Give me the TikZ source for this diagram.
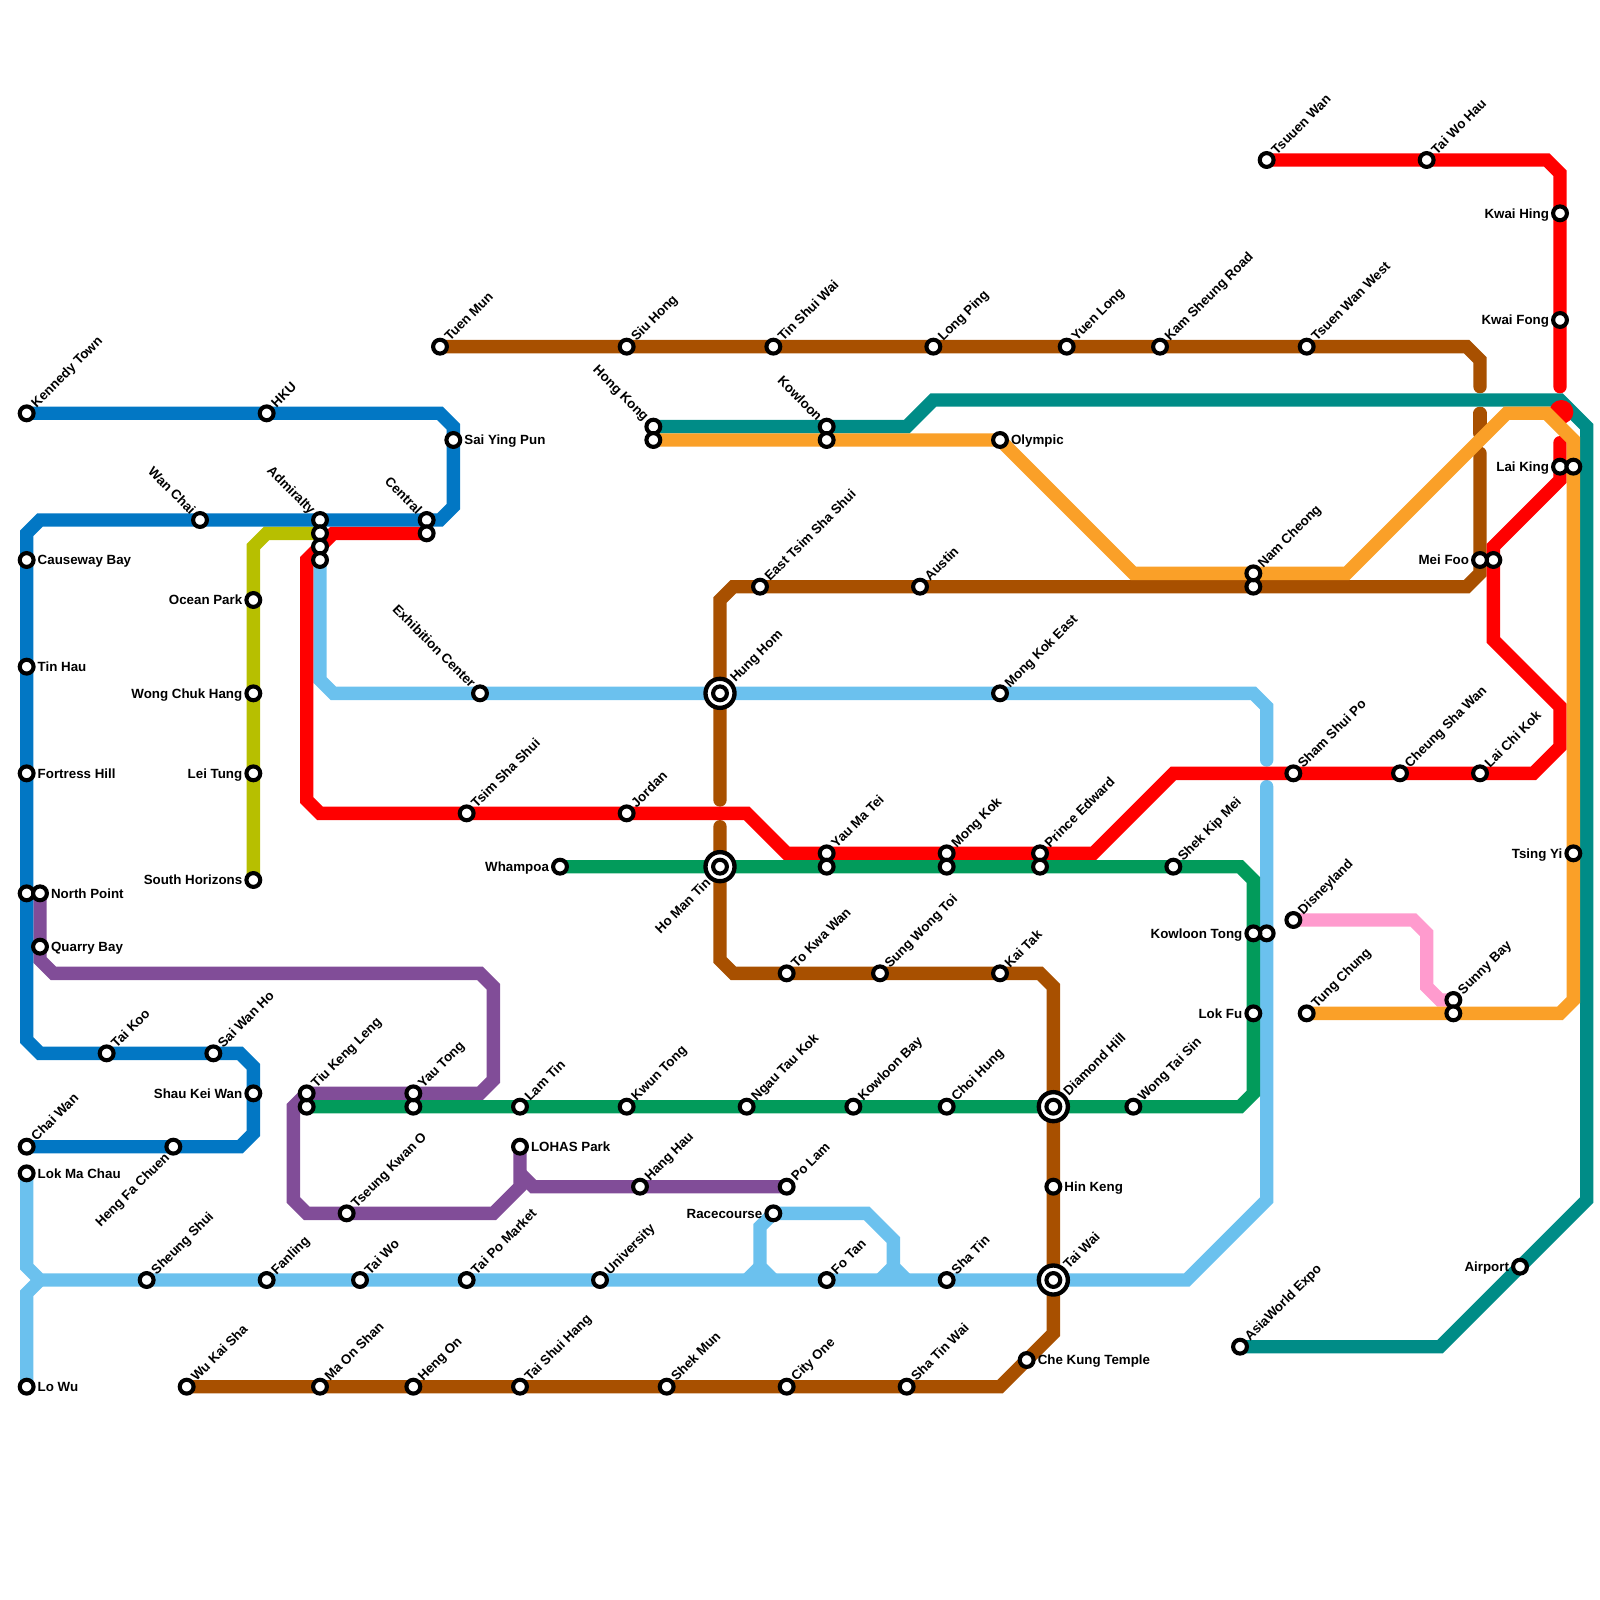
\documentclass[tikz,border=0pt]{standalone}
\usepackage{fontspec}
\setmainfont{Liberation Sans}
\usetikzlibrary{backgrounds}
\definecolor{islandcol}{HTML}{0277C4}
\definecolor{southcol}{HTML}{B7BF00}
\definecolor{tsuencol}{HTML}{FF0000}
\definecolor{tuenmacol}{HTML}{A85000}
\definecolor{eastcol}{HTML}{6BC1EE}
\definecolor{kwuncol}{HTML}{029B5B}
\definecolor{tseungcol}{HTML}{814D98}
\definecolor{airportcol}{HTML}{008C87}
\definecolor{tungcol}{HTML}{FAA028}
\definecolor{disneycol}{HTML}{FF9BCE}

\begin{document}
\begin{tikzpicture}[
  x=0.2cm,
  y=-0.2cm,
  metro/.style={line width=0.2cm},
  gapend/.style={line cap=round},
  station/.style={circle, draw=black, fill=white, line width=1.75pt, inner sep=0pt, minimum size=5.9pt},
  interchange/.style={circle, draw=black, fill=white, line width=1.85pt, inner sep=0pt, minimum size=12.4pt},
  every label/.style={inner sep=0pt, text height=4.1pt, text depth=0pt, font=\fontsize{5.69}{6}\selectfont\bfseries},
  label distance=0.7pt,
  tagne/.style={label={[rotate=45, anchor=west]45:#1}},
  tagnw/.style={label={[rotate=-45, anchor=east]135:#1}},
  tagsw/.style={label={[rotate=45, anchor=east]225:#1}},
  tagr/.style={label={[anchor=west]0:#1}},
  tagl/.style={label={[anchor=east]180:#1}}
]
\useasboundingbox (0,0) rectangle (120,120);

% Stations of the island line
\node[station, tagne=Kennedy Town] (kennedytown) at (2,31) {};
\node[station, tagne=HKU] (hku) at (20,31) {};
\node[station, tagr=Sai Ying Pun] (saiyingpun) at (34,33) {};
\node[station, tagnw=Central] (centrala) at (32,39) {};
\node[station, tagnw=Admiralty] (admiraltya) at (24,39) {};
\node[station, tagnw=Wan Chai] (wanchai) at (15,39) {};
\node[station, tagr=Causeway Bay] (causewaybay) at (2,42) {};
\node[station, tagr=Tin Hau] (tinhau) at (2,50) {};
\node[station, tagr=Fortress Hill] (fortresshill) at (2,58) {};
\node[station] (northpointa) at (2,67) {};
\node[station, tagne=Tai Koo] (taikoo) at (8,79) {};
\node[station, tagne=Sai Wan Ho] (saiwanho) at (16,79) {};
\node[station, tagl=Shau Kei Wan] (shaukeiwan) at (19,82) {};
\node[station, tagsw=Heng Fa Chuen] (hengfachuen) at (13,86) {};
\node[station, tagne=Chai Wan] (chaiwan) at (2,86) {};

% Stations of the south island line
\node[station] (admiraltyb) at (24,40) {};
\node[station, tagl=Ocean Park] (oceanpark) at (19,45) {};
\node[station, tagl=Wong Chuk Hang] (wongchukhang) at (19,52) {};
\node[station, tagl=Lei Tung] (leitung) at (19,58) {};
\node[station, tagl=South Horizons] (southhorizons) at (19,66) {};

% Stations of the red lines
\node[station] (centralb) at (32,40) {};
\node[station] (admiraltyc) at (24,41) {};
\node[station, tagne=Tsim Sha Shui] (tsimshatsui) at (35,61) {};
\node[station, tagne=Jordan] (jordan) at (47,61) {};
\node[station, tagne=Yau Ma Tei] (yaumateia) at (62,64) {};
\node[station, tagne=Mong Kok] (mongkoka) at (71,64) {};
\node[station, tagne=Prince Edward] (princeedwarda) at (78,64) {};
\node[station, tagne=Sham Shui Po] (shamshuipo) at (97,58) {};
\node[station, tagne=Cheung Sha Wan] (cheungshawan) at (105,58) {};
\node[station, tagne=Lai Chi Kok] (laichikok) at (111,58) {};
\node[station] (meifooa) at (112,42) {};
\node[station, tagl=Lai King] (laikinga) at (117,35) {};
\node[station, tagne=Tsuuen Wan] (tsuenwan) at (95,12) {};
\node[station, tagne=Tai Wo Hau] (taiwohau) at (107,12) {};
\node[station, tagl=Kwai Hing] (kwaihing) at (117,16) {};
\node[station, tagl=Kwai Fong] (kwaifong) at (117,24) {};

% Stations of the brown line
\node[station, tagne=Tuen Mun] (tuenmun) at (33,26) {};
\node[station, tagne=Siu Hong] (siuhong) at (47,26) {};
\node[station, tagne=Tin Shui Wai] (tinshuiwai) at (58,26) {};
\node[station, tagne=Long Ping] (longping) at (70,26) {};
\node[station, tagne=Yuen Long] (yuenlong) at (80,26) {};
\node[station, tagne=Kam Sheung Road] (kamsheung) at (87,26) {};
\node[station, tagne=Tsuen Wan West] (tsuenwanwest) at (98,26) {};
\node[station, tagl=Mei Foo] (meifoob) at (111,42) {};
\node[station] (namcheongb) at (94,44) {};
\node[station, tagne=Austin] (austin) at (69,44) {};
\node[station, tagne=East Tsim Sha Shui] (easttsimshashui) at (57,44) {};
\node[interchange, tagne=Hung Hom] (hunghom) at (54,52) {};
\node[station] (hunghomin) at (hunghom) {};
\node[interchange, tagsw=Ho Man Tin] (homantin) at (54,65) {};
\node[station] (homantinin) at (homantin) {};
\node[station, tagne=To Kwa Wan] (tokwawan) at (59,73) {};
\node[station, tagne=Sung Wong Toi] (sungwongtoi) at (66,73) {};
\node[station, tagne=Kai Tak] (kaitak) at (75,73) {};
\node[interchange, tagne=Diamond Hill] (diamondhill) at (79,83) {};
\node[station] (diamondhillin) at (diamondhill) {};
\node[station, tagr=Hin Keng] (hinkeng) at (79,89) {};
\node[interchange, tagne=Tai Wai] (taiwai) at (79,96) {};
\node[station] (taiwaiin) at (taiwai) {};
\node[station, tagr=Che Kung Temple] (chekung) at (77,102) {};
\node[station, tagne=Sha Tin Wai] (shatinwai) at (68,104) {};
\node[station, tagne=City One] (cityone) at (59,104) {};
\node[station, tagne=Shek Mun] (shekmun) at (50,104) {};
\node[station, tagne=Tai Shui Hang] (taishuihang) at (39,104) {};
\node[station, tagne=Heng On] (hengon) at (31,104) {};
\node[station, tagne=Ma On Shan] (maonshan) at (24,104) {};
\node[station, tagne=Wu Kai Sha] (wukaisha) at (14,104) {};

% Stations of the light blue line
\node[station] (admiraltyd) at (24,42) {};
\node[station, tagnw=Exhibition Center] (exhibition) at (36,52) {};
\node[station, tagne=Mong Kok East] (mongkokeast) at (75,52) {};
\node[station] (kowloontongb) at (95,70) {};
\node[station, tagne=Sha Tin] (shatin) at (71,96) {};
\node[station, tagne=Fo Tan] (fotan) at (62,96) {};
\node[station, tagl=Racecourse] (racecourse) at (58,91) {};
\node[station, tagne=University] (university) at (45,96) {};
\node[station, tagne=Tai Po Market] (taipomarket) at (35,96) {};
\node[station, tagne=Tai Wo] (taiwo) at (27,96) {};
\node[station, tagne=Fanling] (fanling) at (20,96) {};
\node[station, tagne=Sheung Shui] (sheungshui) at (11,96) {};
\node[station, tagr=Lok Ma Chau] (lokmachau) at (2,88) {};
\node[station, tagr=Lo Wu] (lowu) at (2,104) {};

% Stations of the green line
\node[station, tagl=Whampoa] (whampoa) at (42,65) {};
\node[station] (yaumateib) at (62,65) {};
\node[station] (mongkokb) at (71,65) {};
\node[station] (princeedwardb) at (78,65) {};
\node[station, tagne=Shek Kip Mei] (shekkipmei) at (88,65) {};
\node[station, tagl=Kowloon Tong] (kowloontonga) at (94,70) {};
\node[station, tagl=Lok Fu] (lokfu) at (94,76) {};
\node[station, tagne=Wong Tai Sin] (wongtaisin) at (85,83) {};
\node[station, tagne=Choi Hung] (choihung) at (71,83) {};
\node[station, tagne=Kowloon Bay] (kowloonbay) at (64,83) {};
\node[station, tagne=Ngau Tau Kok] (ngautaukok) at (56,83) {};
\node[station, tagne=Kwun Tong] (kwuntong) at (47,83) {};
\node[station, tagne=Lam Tin] (lamtin) at (39,83) {};
\node[station] (yautongb) at (31,83) {};
\node[station] (tiukengb) at (23,83) {};

% Stations of the purple line
\node[station, tagr=North Point] (northpointb) at (3,67) {};
\node[station, tagr=Quarry Bay] (quarrybay) at (3,71) {};
\node[station, tagne=Yau Tong] (yautonga) at (31,82) {};
\node[station, tagne=Tiu Keng Leng] (tiukenga) at (23,82) {};
\node[station, tagne=Tseung Kwan O] (tseungkwano) at (26,91) {};
\node[station, tagr=LOHAS Park] (lohaspark) at (39,86) {};
\node[station, tagne=Hang Hau] (hanghau) at (48,89) {};
\node[station, tagne=Po Lam] (polam) at (59,89) {};

% Stations of the airport and orange lines
\node[station, tagnw=Hong Kong] (hongkonga) at (49,32) {};
\node[station] (hongkongb) at (49,33) {};
\node[station, tagnw=Kowloon] (kowloona) at (62,32) {};
\node[station] (kowloonb) at (62,33) {};
\node[station, tagr=Olympic] (olympic) at (75,33) {};
\node[station, tagne=Nam Cheong] (namcheonga) at (94,43) {};
\node[station] (laikingb) at (118,35) {};
\node[station, tagl=Tsing Yi] (tsingyi) at (118,64) {};
\node[station, tagne=Sunny Bay] (sunnybaya) at (109,75) {};
\node[station] (sunnybayb) at (109,76) {};
\node[station, tagne=Tung Chung] (tungchung) at (98,76) {};
\node[station, tagl=Airport] (airport) at (114,95) {};
\node[station, tagne=AsiaWorld Expo] (asiaworld) at (93,101) {};
\node[station, tagne=Disneyland] (disneyland) at (97,69) {};

\begin{scope}[on background layer]
% Light blue line
\draw[metro, eastcol, gapend] (admiraltyd.center) -- (24,51) -- (25,52) -- (exhibition.center) -- (hunghom.center) -- (mongkokeast.center) -- (94,52) -- (95,53) -- (95,57);
\draw[metro, eastcol, gapend] (95,59) -- (kowloontongb.center) -- (95,90) -- (89,96) -- (taiwai.center) -- (shatin.center) -- (fotan.center) -- (university.center) -- (taipomarket.center) -- (taiwo.center) -- (fanling.center) -- (sheungshui.center) -- (3,96) -- (2,95) -- (lokmachau.center);
\draw[metro, eastcol] (3,96) -- (2,97) -- (lowu.center);
\draw[metro, eastcol] (58,96) -- (57,95) -- (57,92) -- (racecourse.center) -- (65,91) -- (67,93) -- (67,95) -- (66,96);
\draw[metro, eastcol] (56,96) -- (57,95);
\draw[metro, eastcol] (67,95) -- (68,96);

% Purple line
\draw[metro, tseungcol] (northpointb.center) -- (quarrybay.center) -- (3,72) -- (4,73) -- (36,73) -- (37,74) -- (37,81) -- (36,82) -- (yautonga.center) -- (tiukenga.center) -- (22,83) -- (22,90) -- (23,91) -- (tseungkwano.center) -- (37,91) -- (39,89) -- (lohaspark.center);
\draw[metro, tseungcol] (39,88) -- (40,89) -- (hanghau.center) -- (polam.center);

% South island and pink lines
\draw[metro, southcol] (admiraltyb.center) -- (20,40) -- (19,41) -- (oceanpark.center) -- (wongchukhang.center) -- (leitung.center) -- (southhorizons.center);
\draw[metro, disneycol] (disneyland.center) -- (106,69) -- (107,70) -- (107,74) -- (108,75) -- (sunnybaya.center);

% Brown line
\draw[metro, tuenmacol, gapend] (tuenmun.center) -- (siuhong.center) -- (tinshuiwai.center) -- (longping.center) -- (yuenlong.center) -- (kamsheung.center) -- (tsuenwanwest.center) -- (110,26) -- (111,27) -- (111,29);
\draw[metro, tuenmacol, gapend] (111,31) -- (111,32.5);
\draw[metro, tuenmacol, gapend] (111,34) -- (meifoob.center) -- (111,43) -- (110,44) -- (namcheongb.center) -- (austin.center) -- (easttsimshashui.center) -- (55,44) -- (54,45) -- (hunghom.center) -- (54,60);
\draw[metro, tuenmacol, gapend] (54,62) -- (homantin.center) -- (54,72) -- (55,73) -- (tokwawan.center) -- (sungwongtoi.center) -- (kaitak.center) -- (78,73) -- (79,74) -- (diamondhill.center) -- (hinkeng.center) -- (taiwai.center) -- (79,100) -- (chekung.center) -- (75,104) -- (shatinwai.center) -- (cityone.center) -- (shekmun.center) -- (taishuihang.center) -- (hengon.center) -- (maonshan.center) -- (wukaisha.center);

% Airport line
\draw[metro, airportcol] (hongkonga.center) -- (kowloona.center) -- (68,32) -- (70,30) -- (117,30) -- (119,32) -- (119,90) -- (airport.center) -- (108,101) -- (asiaworld.center);

% Red lines
\fill[tsuencol] (117.1,30.9) circle (0.9);
\draw[metro, tsuencol, gapend] (centralb.center) -- (25,40) -- (admiraltyc.center) -- (23,42) -- (23,60) -- (24,61) -- (tsimshatsui.center) -- (jordan.center) -- (56,61) -- (59,64) -- (yaumateia.center) -- (mongkoka.center) -- (princeedwarda.center) -- (82,64) -- (88,58) -- (shamshuipo.center) -- (cheungshawan.center) -- (laichikok.center) -- (115,58) -- (117,56) -- (117,53) -- (112,48) -- (meifooa.center) -- (112,41) -- (117,36) -- (laikinga.center) -- (117,33.2);
\draw[metro, tsuencol, gapend] (tsuenwan.center) -- (taiwohau.center) -- (116,12) -- (117,13) -- (kwaihing.center) -- (kwaifong.center) -- (117,29);

% Island line
\draw[metro, islandcol] (kennedytown.center) -- (hku.center) -- (33,31) -- (34,32) -- (saiyingpun.center) -- (34,38) -- (33,39) -- (centrala.center) -- (admiraltya.center) -- (wanchai.center) -- (3,39) -- (2,40) -- (causewaybay.center) -- (tinhau.center) -- (fortresshill.center) -- (northpointa.center) -- (2,78) -- (3,79) -- (taikoo.center) -- (saiwanho.center) -- (18,79) -- (19,80) -- (shaukeiwan.center) -- (19,85) -- (18,86) -- (hengfachuen.center) -- (chaiwan.center);

% Green line
\draw[metro, kwuncol] (whampoa.center) -- (homantin.center) -- (yaumateib.center) -- (mongkokb.center) -- (princeedwardb.center) -- (shekkipmei.center) -- (93,65) -- (94,66) -- (kowloontonga.center) -- (lokfu.center) -- (94,82) -- (93,83) -- (wongtaisin.center) -- (diamondhill.center) -- (choihung.center) -- (kowloonbay.center) -- (ngautaukok.center) -- (kwuntong.center) -- (lamtin.center) -- (yautongb.center) -- (tiukengb.center);

% Orange line
\draw[metro, tungcol] (hongkongb.center) -- (kowloonb.center) -- (olympic.center) -- (85,43) -- (namcheonga.center) -- (101,43) -- (113,31) -- (116,31) -- (118,33) -- (laikingb.center) -- (tsingyi.center) -- (118,75) -- (117,76) -- (sunnybayb.center) -- (tungchung.center);
\end{scope}
\end{tikzpicture}
\end{document}
